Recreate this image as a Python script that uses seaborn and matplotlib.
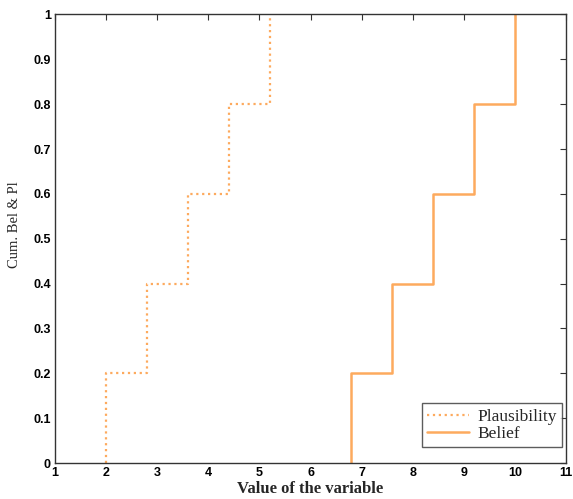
import matplotlib
matplotlib.use("Agg")
import matplotlib.pyplot as plt
import seaborn as sns
import pandas as pd

# step positions and cumulative levels
pl_x = [2.0, 2.8, 3.6, 4.4, 5.2]
bel_x = [6.8, 7.6, 8.4, 9.2, 10.0]
cum_levels = [0.2, 0.4, 0.6, 0.8, 1.0]

sns.set_style("white")
plt.rcParams["font.family"] = ["Liberation Sans", "DejaVu Sans"]

orange = "#FDAA5E"

pl = pd.DataFrame({"x": [pl_x[0]] + pl_x, "y": [0.0] + cum_levels})
bel = pd.DataFrame({"x": [bel_x[0]] + bel_x, "y": [0.0] + cum_levels})

fig = plt.figure(figsize=(5.73, 4.99), dpi=100)
ax = fig.add_axes([0.096, 0.072, 0.892, 0.899])

sns.lineplot(data=pl, x="x", y="y", ax=ax, estimator=None, sort=False,
             drawstyle="steps-post", color=orange, linestyle=":",
             linewidth=1.6, label="Plausibility")
sns.lineplot(data=bel, x="x", y="y", ax=ax, estimator=None, sort=False,
             drawstyle="steps-post", color=orange, linestyle="-",
             linewidth=1.8, label="Belief")

ax.set_xlim(1, 11)
ax.set_ylim(0, 1)
ax.set_xticks(range(1, 12))
ax.set_yticks([i / 10 for i in range(11)])
ax.set_yticklabels(["0"] + [f"{i/10:.1f}" for i in range(1, 10)] + ["1"])

ax.tick_params(direction="in", length=4, width=0.8, top=True, right=True,
               labelsize=9, pad=3, colors="#333333", labelcolor="black")
for lab in ax.get_xticklabels() + ax.get_yticklabels():
    lab.set_fontweight("bold")
for s in ax.spines.values():
    s.set_color("#333333")
    s.set_linewidth(1.0)

ax.set_xlabel("Value of the variable", family="Liberation Serif",
              fontweight="bold", fontsize=12, labelpad=1)
ax.set_ylabel("Cum. Bel & Pl", family="Liberation Serif", fontsize=10.5)
ax.yaxis.set_label_coords(-0.066, 0.531)

leg = ax.legend(loc="lower right", frameon=True, fancybox=False,
                prop={"family": "Liberation Serif", "size": 12.5},
                borderpad=0.3, handlelength=2.4, labelspacing=0.05,
                handletextpad=0.5, borderaxespad=0,
                bbox_to_anchor=(0.992, 0.036))
leg.get_frame().set_edgecolor("#333333")
leg.get_frame().set_linewidth(1.0)

fig.savefig("out.png", dpi=100)
